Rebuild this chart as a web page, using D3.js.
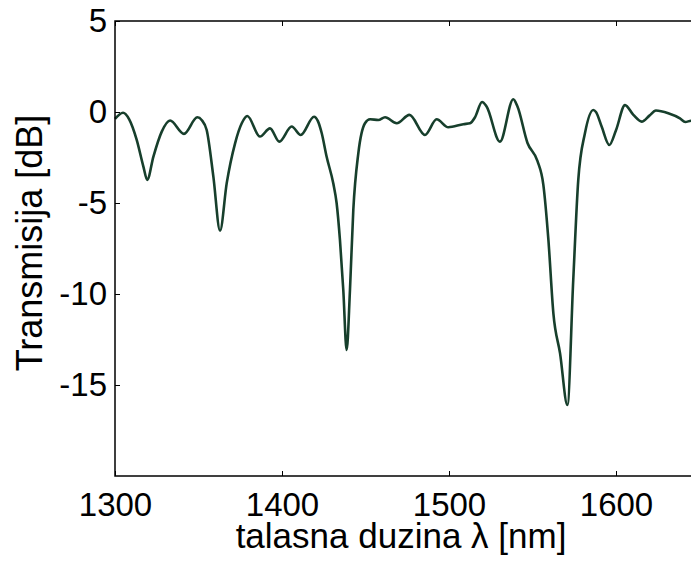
<!DOCTYPE html>
<html>
<head>
<meta charset="utf-8">
<script src="https://cdn.jsdelivr.net/npm/d3@7"></script>
<style>
  body { margin: 0; background: #fff; }
</style>
</head>
<body>
<div id="chart"></div>
<script>
// wavelength (nm) and transmission (dB)
let lambda = [1300, 1304.8, 1308.5, 1313, 1317, 1319.3, 1323, 1328, 1333, 1341.3,
  1349.3, 1352, 1354.9, 1358.9, 1362.9, 1366.9, 1371.9, 1375.9, 1379.2, 1386.8,
  1392.8, 1398.4, 1405.8, 1411.2, 1419.2, 1421.5, 1423.8, 1426.7, 1430.7, 1432.7,
  1434.7, 1436.7, 1438.7, 1440.7, 1442.7, 1445.7, 1449.7, 1452.7, 1457.7, 1461.7,
  1468.7, 1476.3, 1485.6, 1492.6, 1499.6, 1508.6, 1512.6, 1515.5, 1519.8, 1522.5,
  1530.5, 1538.5, 1541, 1547, 1553, 1556.5, 1559.5, 1562.5, 1566.5, 1570.9,
  1574.4, 1577.4, 1581.4, 1586.4, 1588, 1591.4, 1596, 1600, 1605.4, 1610.4,
  1615.4, 1620, 1623.9, 1631.3, 1638.3, 1641.5, 1645, 1650];
let transmisija = [-0.38, -0.04, -0.4, -1.53, -3.0, -3.73, -2.45, -1.08, -0.47, -1.2,
  -0.29, -0.45, -0.99, -3.55, -6.52, -3.91, -1.72, -0.62, -0.22, -1.35,
  -0.9, -1.63, -0.8, -1.26, -0.26, -0.5, -1.17, -2.45, -3.92, -5.0,
  -7.03, -9.78, -13.08, -9.78, -5.38, -2.27, -0.62, -0.4, -0.44, -0.29,
  -0.62, -0.16, -1.26, -0.4, -0.84, -0.67, -0.62, -0.3, 0.55, 0.3,
  -1.63, 0.7, 0.3, -1.7, -2.7, -4.0, -7.0, -11.06, -13.26, -16.1,
  -9.23, -3.74, -1.17, 0.11, 0.0, -0.8, -1.81, -1.0, 0.38, -0.16,
  -0.53, -0.2, 0.08, -0.07, -0.35, -0.55, -0.48, -0.5];

let xTicks = [1300, 1400, 1500, 1600];
let yTicks = [5, 0, -5, -10, -15];

let width = 691, height = 568;
let plotLeft = 115, plotTop = 21, plotRight = 699.5, plotBottom = 476;
let fontFam = "'Liberation Sans', Arial, Helvetica, sans-serif";

let svg = d3.select("#chart").append("svg")
  .attr("width", width)
  .attr("height", height);

let x = d3.scaleLinear().domain([1300, 1650]).range([plotLeft, plotRight]);
let y = d3.scaleLinear().domain([-20, 5]).range([plotBottom, plotTop]);

let data = lambda.map(function(l, i) { return {l: l, t: transmisija[i]}; });

// curve
let line = d3.line()
  .x(function(d) { return x(d.l); })
  .y(function(d) { return y(d.t); })
  .curve(d3.curveMonotoneX);

svg.append("path")
  .datum(data)
  .attr("d", line)
  .attr("fill", "none")
  .attr("stroke", "#173f2c")
  .attr("stroke-width", 2.6)
  .attr("stroke-linejoin", "round");

// axes (MATLAB style: ticks pointing inward, box all round)
svg.append("g")
  .attr("transform", "translate(0," + plotBottom + ")")
  .call(d3.axisBottom(x).tickValues(xTicks).tickSize(-5).tickPadding(17).tickFormat(d3.format("d")))
  .call(function(g) {
    g.select(".domain").remove();
    g.selectAll("text").style("font-family", fontFam).style("font-size", "33px").attr("fill", "#000");
  });

svg.append("g")
  .attr("transform", "translate(0," + plotTop + ")")
  .call(d3.axisTop(x).tickValues(xTicks).tickSize(-5).tickFormat(""))
  .call(function(g) { g.select(".domain").remove(); });

svg.append("g")
  .attr("transform", "translate(" + plotLeft + ",0)")
  .call(d3.axisLeft(y).tickValues(yTicks).tickSize(-5).tickPadding(8))
  .call(function(g) {
    g.select(".domain").remove();
    g.selectAll("text").style("font-family", fontFam).style("font-size", "33px").attr("fill", "#000")
      .text(function(d) { return d; });
  });

svg.append("rect")
  .attr("x", plotLeft)
  .attr("y", plotTop)
  .attr("width", plotRight - plotLeft)
  .attr("height", plotBottom - plotTop)
  .attr("fill", "none")
  .attr("stroke", "#000")
  .attr("stroke-width", 1.5);

// axis titles
svg.append("text")
  .attr("x", 401)
  .attr("y", 548)
  .attr("text-anchor", "middle")
  .style("font-family", fontFam)
  .style("font-size", "35px")
  .text("talasna duzina λ [nm]");

svg.append("text")
  .attr("transform", "translate(42,243) rotate(-90)")
  .attr("text-anchor", "middle")
  .style("font-family", fontFam)
  .style("font-size", "36px")
  .text("Transmisija [dB]");
</script>
</body>
</html>
